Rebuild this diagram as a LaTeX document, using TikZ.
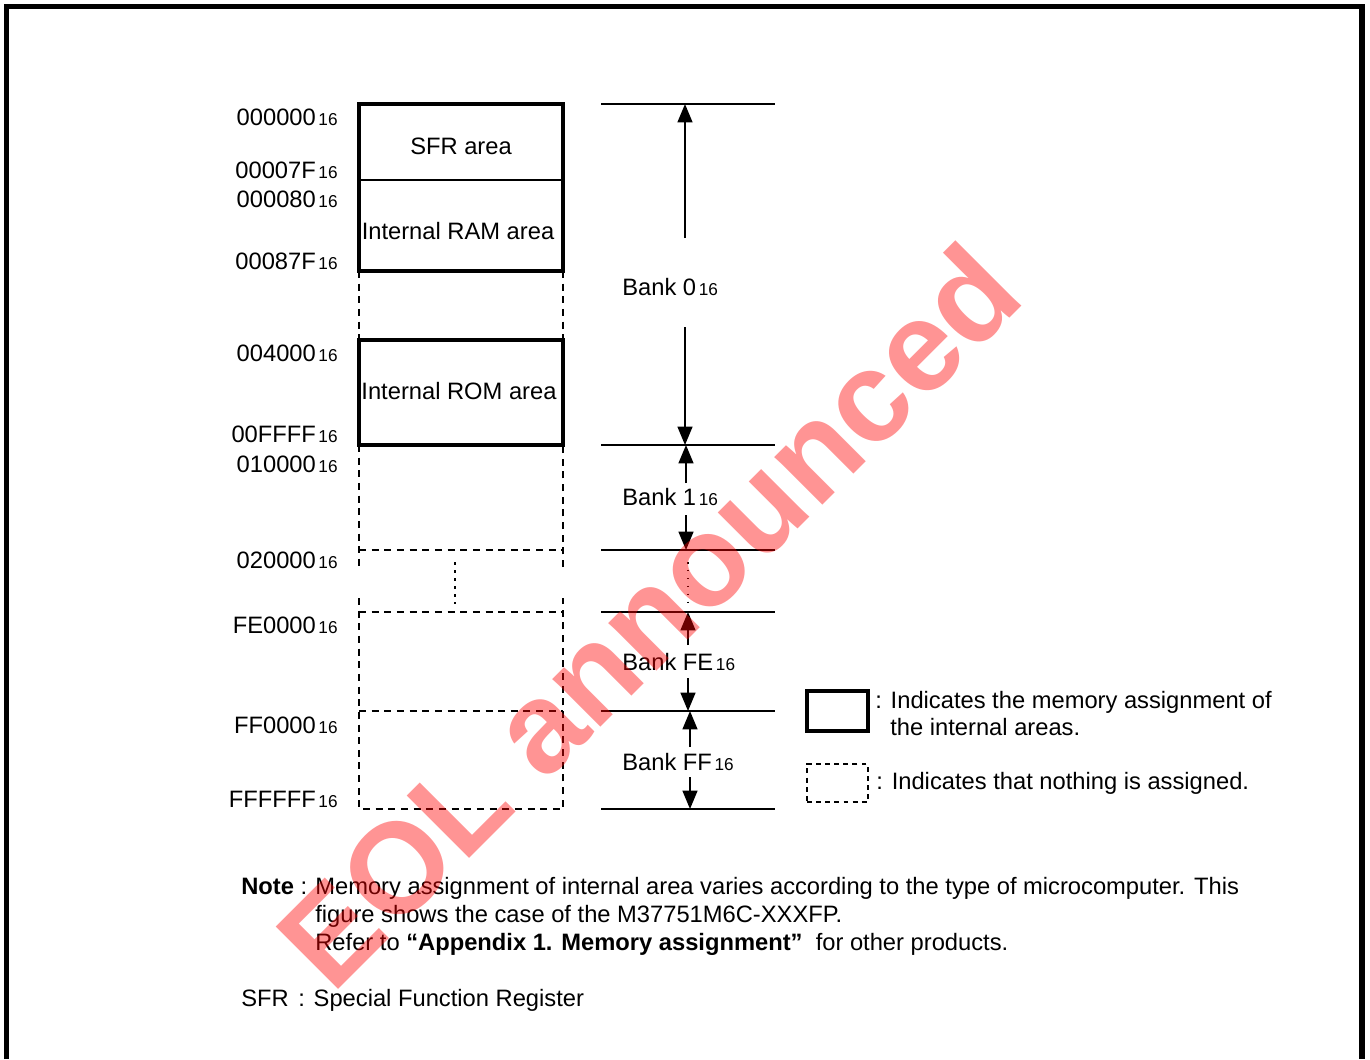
\documentclass[tikz,border=0pt]{standalone}
\usepackage{fontspec}
\setmainfont{Liberation Sans}
\usetikzlibrary{positioning, arrows.meta}

\newcommand{\hexn}[1]{#1\kern1.5pt{\fontsize{9.8}{9.8}\selectfont 16}}

\begin{document}
\begin{tikzpicture}[x=0.02cm, y=-0.02cm,
  every node/.style={inner sep=0pt, font=\fontsize{13.5}{16}\selectfont},
  addr/.style={anchor=base east},
  txt/.style={anchor=base west},
  solidarea/.style={line width=2pt},
  freearea/.style={line width=1.5pt, dash pattern=on 4pt off 3.2pt},
  bankline/.style={line width=1pt},
  dim/.style={line width=1pt, -{Triangle[length=10.5pt,width=8.5pt]}}]

  \useasboundingbox (0,0) rectangle (1370,1059);
  \draw[line width=3pt] (6.5,1059) -- (6.5,6.5) -- (1362,6.5) -- (1362,1059);

  % memory map
  \draw[freearea] (359,271) -- (359,340) (563,271) -- (563,340);
  \draw[freearea] (359,445) -- (359,567) (359,598) -- (359,809) -- (563,809) -- (563,598) (563,567) -- (563,445);
  \foreach \y in {550,612,711} \draw[freearea] (359,\y) -- (563,\y);
  \draw[line width=1.5pt, dash pattern=on 1.6pt off 3pt] (455,562) -- (455,604);
  \draw[solidarea] (359,104) rectangle (563,271);
  \draw[line width=1.3pt] (359,180) -- (563,180);
  \draw[solidarea] (359,340) rectangle (563,445);

  \node (sfr) at (461,146) {SFR area};
  \node (ram) at (458,231) {Internal RAM area};
  \node (rom) at (459,391) {Internal ROM area};

  % addresses
  \foreach \y/\a in {125/000000, 178/00007F, 207/000080, 269/00087F, 361/004000, 442/00FFFF,
                     472/010000, 568/020000, 633/FE0000, 733/FF0000, 807/FFFFFF}
    \node[addr] (a\a) at (338,\y) {\hexn{\a}};

  % banks
  \foreach \y in {104,445,550,612,711,809} \draw[bankline] (601,\y) -- (775,\y);
  \foreach \n/\x/\t/\b/\lab/\u/\d in {0/685/104/445/295/238/327, 1/686/445/550/505/483/515,
                                      FE/688/612/711/670/645/678, FF/690/711/809/770/747/777} {
    \node[txt] (bank\n) at (622,\lab) {Bank \hexn{\n}};
    \coordinate (top\n) at (\x,\t);
    \coordinate (bot\n) at (\x,\b);
    \coordinate (up\n) at (\x,\u);
    \coordinate (dn\n) at (\x,\d);
    \draw[dim] (up\n) -- (top\n);
    \draw[dim] (dn\n) -- (bot\n);
  }
  \draw[line width=1pt, dash pattern=on 0.9pt off 3.6pt] (688,562) -- (688,604);

  % legend
  \node[draw, solidarea, minimum width=1.22cm, minimum height=0.8cm] (legsolid) at (837.5,711) {};
  \node[txt] (legsolidtxt) at (875,708) {: Indicates the memory assignment of};
  \node[txt] (legsolidtxt2) at (890,735) {the internal areas.};
  \node[draw, line width=1.2pt, dash pattern=on 2.8pt off 2.4pt, minimum width=1.22cm, minimum height=0.76cm] (legfree) at (837.5,783) {};
  \node[right=0.14cm of legfree] (legfreetxt) {: Indicates that nothing is assigned.};

  % note
  \node[txt] (note) at (241,894) {\textbf{Note} :};
  \node[txt] (note1) at (315,894) {Memory assignment of internal area varies according to the type of microcomputer. This};
  \node[txt] (note2) at (315,922) {figure shows the case of the M37751M6C-XXXFP.};
  \node[txt] (note3) at (315,950) {Refer to \textbf{“Appendix 1. Memory assignment”}\ \ for other products.};
  \node[txt] (sfrkey) at (241,1006) {SFR};
  \node[txt] (sfrdef) at (298,1006) {: Special Function Register};

  % watermark
  \node[rotate=45, text=red, opacity=0.42, font=\fontsize{73}{73}\selectfont\bfseries] (eol) at (648,615) {EOL announced};
\end{tikzpicture}
\end{document}
